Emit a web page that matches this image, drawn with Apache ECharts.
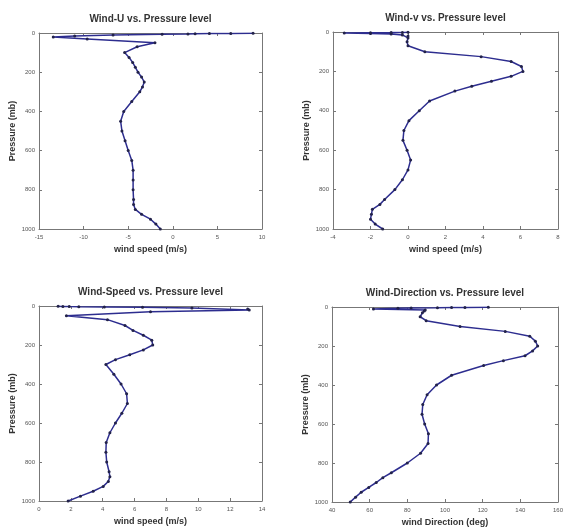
<!DOCTYPE html>
<html>
<head>
<meta charset="utf-8">
<script src="https://cdn.jsdelivr.net/npm/echarts@6/dist/echarts.min.js"></script>
<style>
  html, body { margin: 0; padding: 0; background: #fff; }
  #root { width: 569px; height: 532px; }
</style>
</head>
<body>
<div id="root"></div>
<script>
const chartDom = document.getElementById('root');
const myChart = echarts.init(chartDom);

// pressure levels (mb), bottom of sounding first
const levels = [1000, 975, 950, 925, 900, 875, 850, 800, 750, 700, 650, 600, 550, 500, 450, 400, 350, 300, 275, 250,
  225, 200, 175, 150, 125, 100, 70, 50, 30, 20, 15, 10, 7, 5, 4, 3, 2, 1];

const windU = [-1.4, -1.9, -2.5, -3.5, -4.2, -4.4, -4.4, -4.45, -4.45, -4.45, -4.6, -5.0, -5.35, -5.7, -5.85, -5.5, -4.6, -3.7, -3.4, -3.2,
  -3.5, -3.9, -4.2, -4.5, -4.9, -5.4, -4.0, -2.0, -9.6, -13.4, -11, -6.7, -1.2, 1.7, 2.5, 4.1, 6.5, 9.0];

const windV = [-1.35, -1.75, -2.0, -1.95, -1.9, -1.5, -1.25, -0.7, -0.3, 0.0, 0.14, -0.05, -0.27, -0.22, 0.05, 0.6, 1.15, 2.5, 3.4, 4.45,
  5.5, 6.13, 6.05, 5.5, 3.9, 0.9, 0.0, -0.05, 0.0, 0.0, -0.3, -0.9, -2.0, -3.4, -2.0, -0.9, -0.3, 0.0];

const windSpeed = [1.83, 2.6, 3.4, 4.03, 4.35, 4.45, 4.4, 4.25, 4.2, 4.22, 4.45, 4.8, 5.2, 5.55, 5.5, 5.15, 4.7, 4.2, 4.8, 5.7,
  6.55, 7.14, 7.08, 6.55, 5.9, 5.4, 4.3, 1.72, 7.0, 13.2, 13.1, 9.6, 6.5, 4.1, 2.5, 1.9, 1.5, 1.2];

const windDir = [49.7, 52.5, 55.5, 59.5, 63.5, 67, 71.5, 80, 87, 91, 91.2, 89.2, 87.8, 88.2, 90.5, 95.5, 103.5, 120.5, 131, 142.5,
  146.5, 149.2, 148, 145, 132, 108, 90, 86.8, 88, 89, 89.5, 62, 75, 82, 96, 103.5, 110.6, 123];

const panelTitles = ['Wind-U vs. Pressure level', 'Wind-v vs. Pressure level',
  'Wind-Speed vs. Pressure level', 'Wind-Direction vs. Pressure level'];
const xNames = ['wind speed (m/s)', 'wind speed (m/s)', 'wind speed (m/s)', 'wind Direction (deg)'];
const xRanges = [[-15, 10, 5], [-4, 8, 2], [0, 14, 2], [40, 160, 20]];
const pressureTicks = [0, 1000, 200];
const seriesData = [windU, windV, windSpeed, windDir];

const grids = [
  { left: 39, top: 33, width: 223, height: 196 },
  { left: 333, top: 32, width: 225, height: 197 },
  { left: 39, top: 306, width: 223, height: 195 },
  { left: 332, top: 307, width: 226, height: 195 }
];

const lineColor = '#2d2d8f';
const axisColor = '#777';
const textColor = '#333';
const font = 'Liberation Sans, Arial, sans-serif';
const plain = v => String(v);

const xAxis = [];
const yAxis = [];
const series = [];
const graphic = [];

grids.forEach((g, i) => {
  const [xmin, xmax, xint] = xRanges[i];
  xAxis.push({
    type: 'value', gridIndex: i, min: xmin, max: xmax, interval: xint,
    name: xNames[i], nameLocation: 'middle', nameGap: 16,
    nameTextStyle: { fontSize: 9, fontWeight: 'bold', color: textColor, fontFamily: font },
    axisLine: { onZero: false, lineStyle: { color: axisColor } },
    axisTick: { inside: true, length: 3, lineStyle: { color: axisColor } },
    axisLabel: { fontSize: 6, color: '#555', margin: 5, fontFamily: font, formatter: plain },
    splitLine: { show: false }
  });
  xAxis.push({
    type: 'value', gridIndex: i, position: 'top', min: xmin, max: xmax, interval: xint,
    axisLine: { onZero: false, lineStyle: { color: axisColor } },
    axisTick: { inside: true, length: 3, lineStyle: { color: axisColor } },
    axisLabel: { show: false },
    splitLine: { show: false }
  });
  yAxis.push({
    type: 'value', gridIndex: i, inverse: true,
    min: pressureTicks[0], max: pressureTicks[1], interval: pressureTicks[2],
    name: 'Pressure (mb)', nameLocation: 'middle', nameGap: 22,
    nameTextStyle: { fontSize: 9, fontWeight: 'bold', color: textColor, fontFamily: font },
    axisLine: { onZero: false, lineStyle: { color: axisColor } },
    axisTick: { inside: true, length: 3, lineStyle: { color: axisColor } },
    axisLabel: { fontSize: 6, color: '#555', margin: 4, fontFamily: font, formatter: plain },
    splitLine: { show: false }
  });
  yAxis.push({
    type: 'value', gridIndex: i, inverse: true, position: 'right',
    min: pressureTicks[0], max: pressureTicks[1], interval: pressureTicks[2],
    axisLine: { onZero: false, lineStyle: { color: axisColor } },
    axisTick: { inside: true, length: 3, lineStyle: { color: axisColor } },
    axisLabel: { show: false },
    splitLine: { show: false }
  });
  series.push({
    type: 'line',
    xAxisIndex: 2 * i,
    yAxisIndex: 2 * i,
    data: seriesData[i].map((v, k) => [v, levels[k]]),
    symbol: 'circle',
    symbolSize: 3,
    lineStyle: { color: lineColor, width: 1.5 },
    itemStyle: { color: '#22224a' },
    animation: false
  });
  graphic.push({
    type: 'text',
    x: g.left + g.width / 2,
    y: g.top - 14,
    style: {
      text: panelTitles[i],
      fill: textColor,
      font: 'bold 10px ' + font,
      align: 'center',
      textAlign: 'center',
      verticalAlign: 'middle',
      textVerticalAlign: 'middle'
    }
  });
});

const option = {
  backgroundColor: '#fff',
  animation: false,
  grid: grids,
  xAxis: xAxis,
  yAxis: yAxis,
  series: series,
  graphic: graphic
};

myChart.setOption(option);
</script>
</body>
</html>
